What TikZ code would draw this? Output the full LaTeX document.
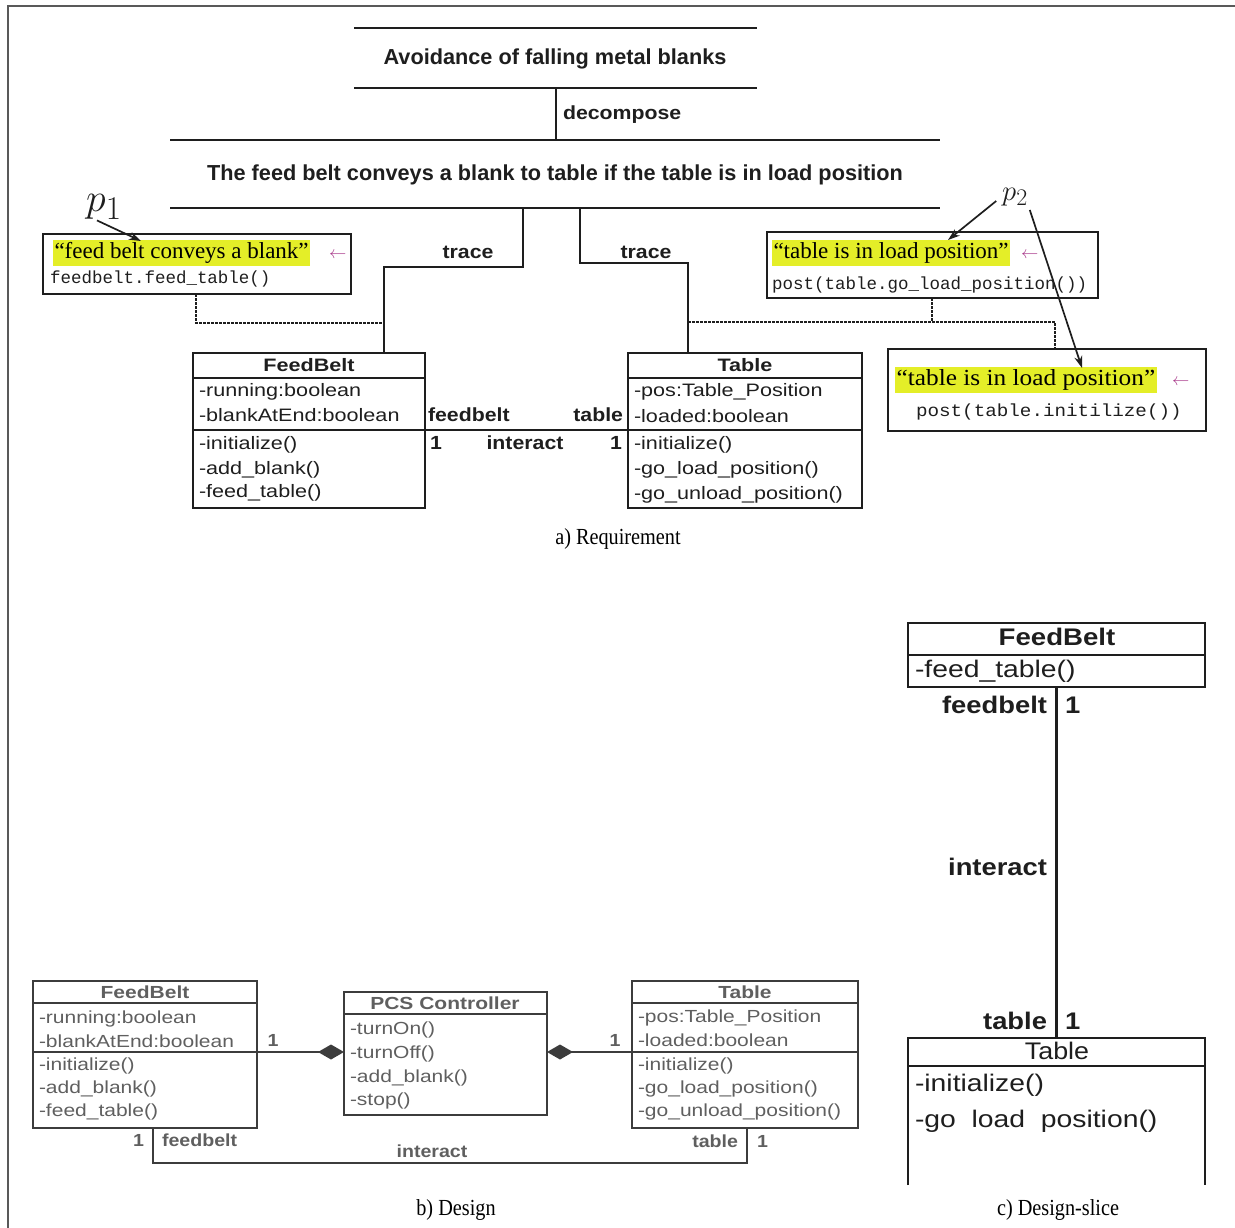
\documentclass[tikz,border=0pt]{standalone}
\usepackage{fontspec}
\setmainfont{Liberation Serif}
\setsansfont{Liberation Sans}
\setmonofont{Liberation Mono}
\usetikzlibrary{arrows.meta}
\definecolor{marker}{RGB}{228,238,40}
\definecolor{backref}{RGB}{170,60,140}
\definecolor{ink}{RGB}{30,30,30}
\definecolor{faded}{RGB}{95,95,95}
\definecolor{fadedline}{RGB}{60,60,60}
\begin{document}
\begin{tikzpicture}[x=1pt,y=-1pt,
  every node/.style={inner sep=0pt,outer sep=0pt},
  goal/.style={font=\sffamily\bfseries\fontsize{21.7}{25}\selectfont,anchor=mid,text=ink,yshift=-5},
  rel/.style={font=\sffamily\bfseries\fontsize{19}{22}\selectfont,xscale=1.12,text=ink,yshift=-4},
  cname/.style={font=\sffamily\bfseries\fontsize{18}{22}\selectfont,xscale=1.2,anchor=mid,text=ink,yshift=-4},
  member/.style={font=\sffamily\fontsize{18}{22}\selectfont,xscale=1.2,anchor=mid west,text=ink,yshift=-4},
  classbox/.style={draw=ink,line width=1.6,anchor=north west},
  gline/.style={draw=ink,line width=1.8},
  conn/.style={draw=ink,line width=1.6},
  assoc/.style={draw=ink,line width=2.6},
  dsh/.style={draw=ink,line width=1.3,dash pattern=on 2.5pt off 1.5pt},
  pbox/.style={draw=ink,line width=1.6,anchor=north west},
  hlt/.style={fill=marker,font=\fontsize{23}{26}\selectfont,inner xsep=1.5,inner ysep=2.5,anchor=mid west,yshift=-3},
  code/.style={font=\ttfamily\fontsize{17.5}{20}\selectfont,anchor=mid west,text=ink,yshift=-4},
  backarrow/.style={text=backref,font=\fontsize{18}{20}\selectfont,anchor=mid west,yshift=-3},
  plabel/.style={font=\fontsize{24.88}{28}\selectfont,text=ink},
  parrow/.style={draw=ink,line width=1.7,-{Stealth[length=12pt,width=8pt]}},
  dname/.style={font=\sffamily\bfseries\fontsize{17.5}{21}\selectfont,xscale=1.2,anchor=mid,text=faded,yshift=-4},
  dmember/.style={font=\sffamily\fontsize{17.5}{21}\selectfont,xscale=1.2,anchor=mid west,text=faded,yshift=-4},
  drel/.style={font=\sffamily\bfseries\fontsize{17.5}{21}\selectfont,xscale=1.12,text=faded,yshift=-4},
  dbox/.style={draw=fadedline,line width=1.5,anchor=north west},
  dassoc/.style={draw=fadedline,line width=2.4},
  comp/.style={draw=fadedline,line width=2.4,-{Diamond[length=26pt,width=15pt]}},
  sname/.style={font=\sffamily\bfseries\fontsize{24}{28}\selectfont,xscale=1.15,anchor=mid,text=ink,yshift=-5},
  stitle/.style={font=\sffamily\fontsize{24}{28}\selectfont,xscale=1.12,anchor=mid,text=ink,yshift=-5},
  smember/.style={font=\sffamily\fontsize{24}{28}\selectfont,xscale=1.18,anchor=mid west,text=ink,yshift=-5},
  srel/.style={font=\sffamily\bfseries\fontsize{24}{28}\selectfont,xscale=1.14,text=ink,yshift=-5},
  sbox/.style={draw=ink,line width=2},
  caption/.style={font=\fontsize{23}{26}\selectfont,xscale=0.88,anchor=mid,yshift=-5}
]
\useasboundingbox (0,0) rectangle (1235,1228);

% frame
\draw[draw=black!65,line width=1.5] (8,1228) -- (8,6) -- (1235,6);

% ---------------- a) Requirement ----------------
% goal decomposition
\draw[gline] (354,28) -- (757,28);
\node[goal] (goal1) at (555,57) {Avoidance of falling metal blanks};
\draw[gline] (354,88) -- (757,88);
\draw[gline] (556,88) -- (556,140);
\node[rel,anchor=mid west] (decomp) at (563,113) {decompose};
\draw[gline] (170,140) -- (940,140);
\node[goal] (goal2) at (555,173) {The feed belt conveys a blank to table if the table is in load position};
\draw[gline] (170,208) -- (940,208);

% classes
\node[classbox,minimum width=232,minimum height=155] (fbR) at (193,353) {};
\draw[conn] ([yshift=-25]fbR.north west) -- ([yshift=-25]fbR.north east);
\draw[conn] ([yshift=-77]fbR.north west) -- ([yshift=-77]fbR.north east);
\node[cname] (fbRn) at (309,365) {FeedBelt};
\node[member] (fbR1) at (199,390) {-running:boolean};
\node[member] (fbR2) at (199,415) {-blankAtEnd:boolean};
\node[member] (fbR3) at (199,443) {-initialize()};
\node[member] (fbR4) at (199,468) {-add\_blank()};
\node[member] (fbR5) at (199,491) {-feed\_table()};

\node[classbox,minimum width=234,minimum height=155] (tbR) at (628,353) {};
\draw[conn] ([yshift=-25]tbR.north west) -- ([yshift=-25]tbR.north east);
\draw[conn] ([yshift=-77]tbR.north west) -- ([yshift=-77]tbR.north east);
\node[cname] (tbRn) at (745,365) {Table};
\node[member] (tbR1) at (634,390) {-pos:Table\_Position};
\node[member] (tbR2) at (634,416) {-loaded:boolean};
\node[member] (tbR3) at (634,443) {-initialize()};
\node[member] (tbR4) at (634,468) {-go\_load\_position()};
\node[member] (tbR5) at (634,493) {-go\_unload\_position()};

% association between the two classes
\draw[assoc] ([yshift=-77]fbR.north east) -- ([yshift=-77]tbR.north west);
\node[rel,anchor=mid west] (aR1) at (428,415) {feedbelt};
\node[rel,anchor=mid east] (aR2) at (623,415) {table};
\node[rel,anchor=mid west] (aR3) at (430,443) {1};
\node[rel,anchor=mid] (aR4) at (525,443) {interact};
\node[rel,anchor=mid east] (aR5) at (622,443) {1};

% trace links
\coordinate (t1) at (523,208);
\coordinate (t1c) at (384,267);
\draw[conn] (t1) |- (t1c) -- (t1c |- fbR.north);
\node[rel] (tr1) at (468,248) {trace};
\coordinate (t2) at (580,208);
\coordinate (t2c) at (688,263);
\draw[conn] (t2) |- (t2c) -- (t2c |- tbR.north);
\node[rel] (tr2) at (646,248) {trace};

% property p1
\node[pbox,minimum width=308,minimum height=60] (p1box) at (43,234) {};
\node[hlt] (p1h) at (53,253) {“feed belt conveys a blank”};
\node[backarrow] (p1b) at (329,253) {$\leftarrow$};
\node[code] (p1c) at (50,277) {feedbelt.feed\_table()};
\node[plabel,scale=1.6] (p1) at (104,207) {$p_1$};
\coordinate (p1tip) at (141,241);
\draw[parrow] ([xshift=-7,yshift=-1]p1.south) -- (p1tip);

% property p2
\node[pbox,minimum width=331,minimum height=66] (p2a) at (767,232) {};
\node[hlt] (p2ah) at (772,253) {“table is in load position”};
\node[backarrow] (p2ab) at (1021,253) {$\leftarrow$};
\node[code] (p2ac) at (772,283) {post(table.go\_load\_position())};

\node[pbox,minimum width=318,minimum height=82] (p2b) at (888,349) {};
\node[hlt,xscale=1.1] (p2bh) at (895,380) {“table is in load position”};
\node[backarrow] (p2bb) at (1172,380) {$\leftarrow$};
\node[code,xscale=1.1] (p2bc) at (916,410) {post(table.initilize())};

\node[plabel,scale=1.15] (p2) at (1015,197) {$p_2$};
\coordinate (p2tipa) at (948,240);
\coordinate (p2tipb) at (1082,368);
\draw[parrow] ([xshift=-6,yshift=-4]p2.west) -- (p2tipa);
\draw[parrow] ([xshift=2,yshift=-4]p2.south east) -- (p2tipb);

% realisation links (dashed)
\coordinate (d1) at (196,323);
\draw[dsh] (d1 |- p1box.south) -- (d1) -- (d1 -| t1c);
\coordinate (d2) at (932,322);
\coordinate (d3) at (1055,322);
\draw[dsh] (t2c |- d2) -- (d3) -- (d3 |- p2b.north);
\draw[dsh] (d2 |- p2a.south) -- (d2);

\node[caption] (capa) at (618,537) {a) Requirement};

% ---------------- b) Design ----------------
\node[dbox,minimum width=224,minimum height=147] (fbD) at (33,981) {};
\draw[draw=fadedline,line width=1.5] ([yshift=-22]fbD.north west) -- ([yshift=-22]fbD.north east);
\draw[draw=fadedline,line width=1.5] ([yshift=-71]fbD.north west) -- ([yshift=-71]fbD.north east);
\node[dname] (fbDn) at (145,992) {FeedBelt};
\node[dmember] (fbD1) at (39,1017) {-running:boolean};
\node[dmember] (fbD2) at (39,1041) {-blankAtEnd:boolean};
\node[dmember] (fbD3) at (39,1064) {-initialize()};
\node[dmember] (fbD4) at (39,1087) {-add\_blank()};
\node[dmember] (fbD5) at (39,1110) {-feed\_table()};

\node[dbox,minimum width=203,minimum height=123] (pcs) at (344,992) {};
\draw[draw=fadedline,line width=1.5] ([yshift=-22]pcs.north west) -- ([yshift=-22]pcs.north east);
\node[dname] (pcsn) at (445,1003) {PCS Controller};
\node[dmember] (pcs1) at (350,1028) {-turnOn()};
\node[dmember] (pcs2) at (350,1052) {-turnOff()};
\node[dmember] (pcs3) at (350,1076) {-add\_blank()};
\node[dmember] (pcs4) at (350,1099) {-stop()};

\node[dbox,minimum width=226,minimum height=147] (tbD) at (632,981) {};
\draw[draw=fadedline,line width=1.5] ([yshift=-22]tbD.north west) -- ([yshift=-22]tbD.north east);
\draw[draw=fadedline,line width=1.5] ([yshift=-71]tbD.north west) -- ([yshift=-71]tbD.north east);
\node[dname] (tbDn) at (745,992) {Table};
\node[dmember] (tbD1) at (638,1016) {-pos:Table\_Position};
\node[dmember] (tbD2) at (638,1040) {-loaded:boolean};
\node[dmember] (tbD3) at (638,1064) {-initialize()};
\node[dmember] (tbD4) at (638,1087) {-go\_load\_position()};
\node[dmember] (tbD5) at (638,1110) {-go\_unload\_position()};

% compositions into the controller
\draw[comp] ([yshift=-71]fbD.north east) -- ([yshift=-60]pcs.north west);
\draw[comp] ([yshift=-71]tbD.north west) -- ([yshift=-60]pcs.north east);
\node[drel,anchor=mid] (cD1) at (273,1040) {1};
\node[drel,anchor=mid] (cD2) at (615,1040) {1};

% association feedbelt -- table
\coordinate (ba) at (153,1163);
\coordinate (bb) at (747,1163);
\draw[dassoc] (ba |- fbD.south) -- (ba) -- (bb) -- (bb |- tbD.south);
\node[drel,anchor=mid east] (aD1) at (144,1140) {1};
\node[drel,anchor=mid west] (aD2) at (162,1140) {feedbelt};
\node[drel,anchor=mid] (aD3) at (432,1151) {interact};
\node[drel,anchor=mid east] (aD4) at (738,1141) {table};
\node[drel,anchor=mid west] (aD5) at (757,1141) {1};

\node[caption] (capb) at (456,1208) {b) Design};

% ---------------- c) Design-slice ----------------
\node[sbox,anchor=north west,minimum width=297,minimum height=64] (fbS) at (908,623) {};
\draw[sbox] ([yshift=-32]fbS.north west) -- ([yshift=-32]fbS.north east);
\node[sname] (fbSn) at (1057,638) {FeedBelt};
\node[smember] (fbS1) at (915,670) {-feed\_table()};

\node[anchor=north west,minimum width=297,minimum height=147] (tbS) at (908,1038) {};
\draw[sbox] (tbS.south west) -- (tbS.north west) -- (tbS.north east) -- (tbS.south east);
\draw[sbox] ([yshift=-28]tbS.north west) -- ([yshift=-28]tbS.north east);
\node[stitle] (tbSn) at (1057,1052) {Table};
\node[smember] (tbS1) at (915,1084) {-initialize()};
\node[smember] (tbS2) at (915,1120) {-go\ \ load\ \ position()};

\draw[draw=ink,line width=3] (fbS.south) -- (tbS.north);
\node[srel,anchor=mid east] (aS1) at (1047,706) {feedbelt};
\node[srel,anchor=mid west] (aS2) at (1065,706) {1};
\node[srel,anchor=mid east] (aS3) at (1047,868) {interact};
\node[srel,anchor=mid east] (aS4) at (1047,1022) {table};
\node[srel,anchor=mid west] (aS5) at (1065,1022) {1};

\node[caption] (capc) at (1058,1208) {c) Design-slice};
\end{tikzpicture}
\end{document}
